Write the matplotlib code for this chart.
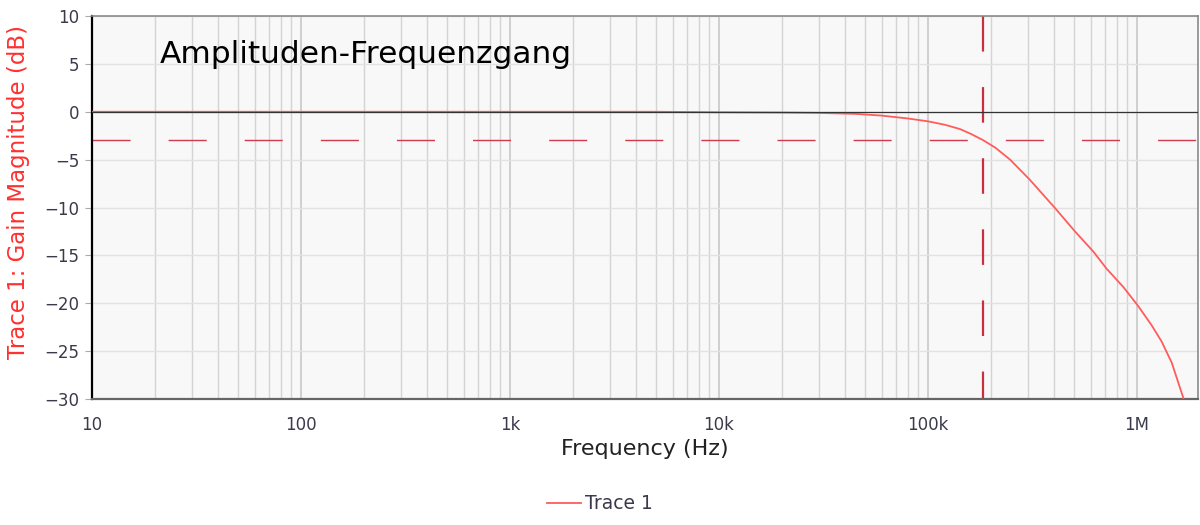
import matplotlib.pyplot as plt
from matplotlib.ticker import FixedLocator, FixedFormatter, LogLocator, NullFormatter
import numpy as np

# gain readout of trace 1 (Hz, dB)
freq = [10, 100, 1000, 5000, 10000, 20000, 30000, 45000, 60000, 80000, 100000,
        120000, 142000, 160000, 183000, 210000, 247000, 307000, 405000, 505000,
        618000, 716000, 860000, 1014000, 1175000, 1312000, 1466000, 1667000]
gain = [0.0, 0.0, 0.0, 0.0, -0.05, -0.08, -0.12, -0.22, -0.4, -0.7, -1.0,
        -1.35, -1.8, -2.3, -2.95, -3.75, -5.0, -7.1, -10.05, -12.5,
        -14.6, -16.4, -18.3, -20.3, -22.3, -24.0, -26.2, -29.9]

cutoff_freq = 183000
cutoff_gain = -3

xticks = [10, 100, 1000, 10000, 100000, 1000000]
xticklabels = ['10', '100', '1k', '10k', '100k', '1M']
yticks = [10, 5, 0, -5, -10, -15, -20, -25, -30]

fig = plt.figure(figsize=(12, 5.25), dpi=100)
ax = fig.add_axes([0.0767, 0.24, 0.9213, 0.7295])
ax.set_facecolor('#f8f8f8')

ax.set_xscale('log')
ax.set_xlim(10, 1.95e6)
ax.set_ylim(-30, 10)

# grid
ax.xaxis.set_major_locator(FixedLocator(xticks))
ax.xaxis.set_major_formatter(FixedFormatter(xticklabels))
ax.xaxis.set_minor_locator(LogLocator(base=10, subs=np.arange(2, 10)))
ax.xaxis.set_minor_formatter(NullFormatter())
ax.set_yticks(yticks)
ax.grid(which='major', axis='x', color='#c8c8c8', linewidth=1.2)
ax.grid(which='minor', axis='x', color='#d4d4d4', linewidth=1.0)
ax.grid(which='major', axis='y', color='#e2e2e2', linewidth=1.0)
ax.set_axisbelow(True)

ax.plot(freq, gain, color='#ff5c5c', linewidth=1.3, label='Trace 1', zorder=3)
ax.axhline(0, color='#333333', linewidth=0.9, zorder=4)
ax.axhline(cutoff_gain, color='#d03a4c', linewidth=1.0, dashes=(27.4, 27.4), zorder=2)
# vertical marker, dashes start at the top
ax.plot([cutoff_freq, cutoff_freq], [1, 0], transform=ax.get_xaxis_transform(),
        color='#c8303f', linewidth=1.6, dashes=(16, 16), zorder=2)

ax.text(21.2, 6.0, 'Amplituden-Frequenzgang', fontsize=22.5, color='black', va='center')

for side in ['top', 'right']:
    ax.spines[side].set_color('#8a8a8a')
    ax.spines[side].set_linewidth(1.2)
ax.spines['left'].set_color('black')
ax.spines['left'].set_linewidth(1.6)
ax.spines['bottom'].set_color('#666666')
ax.spines['bottom'].set_linewidth(1.6)

ax.tick_params(axis='x', which='both', length=0, pad=12, labelsize=12, labelcolor='#3a3a4a')
ax.tick_params(axis='y', length=5, color='#aaaaaa', pad=4, labelsize=12, labelcolor='#3a3a4a')

ax.set_xlabel('Frequency (Hz)', fontsize=16, color='#222222', labelpad=4)
ax.set_ylabel('Trace 1: Gain Magnitude (dB)', fontsize=16.5, color='#ff3030')
ax.yaxis.set_label_coords(-0.056, 0.54)

fig.legend(loc='lower center', bbox_to_anchor=(0.5, -0.01), frameon=False, fontsize=13.5,
           handlelength=1.8, handletextpad=0.2, labelcolor='#3a3a4a')

fig.savefig('out.png', dpi=100)
